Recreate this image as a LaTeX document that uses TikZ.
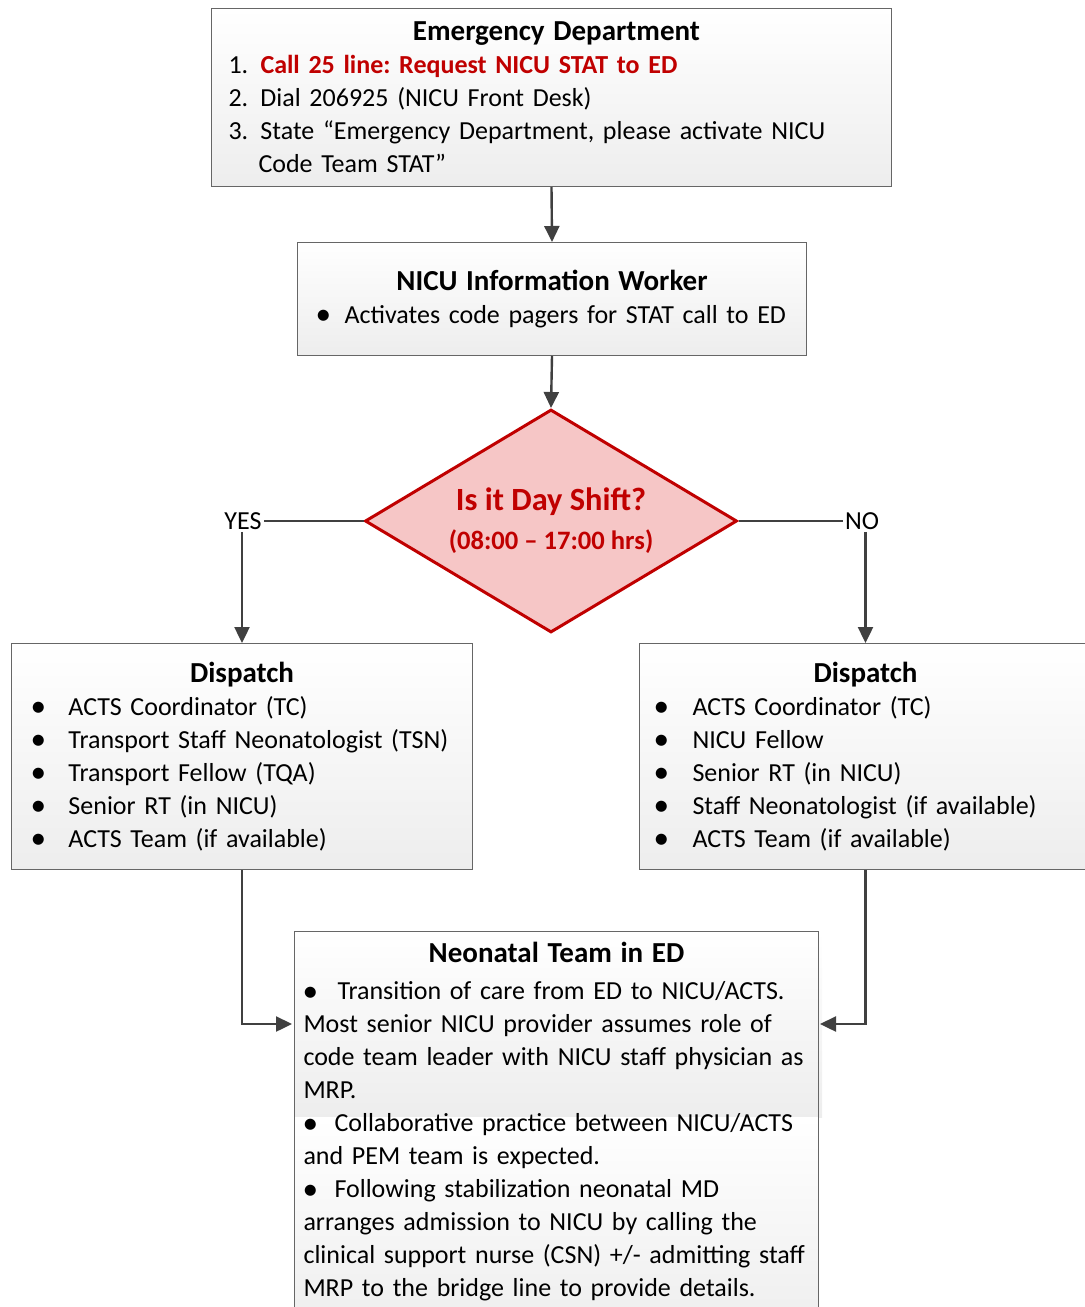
\documentclass[tikz,border=0pt]{standalone}
\usepackage{fontspec}
\setmainfont{Carlito}
\frenchspacing
\usetikzlibrary{arrows.meta,shapes.geometric}

\definecolor{codered}{RGB}{192,0,0}
\definecolor{linegray}{RGB}{64,64,64}
\definecolor{diapink}{RGB}{246,198,198}

\tikzset{
  plainbox/.style={draw=black!60,line width=0.5pt,anchor=north west,inner ysep=5.5pt,
    font=\fontsize{13}{16.5}\selectfont\setlength{\parindent}{0pt}},
  box/.style={plainbox,top color=white,bottom color=black!7},
  band/.style={top color=white,bottom color=black!7},
  dia/.style={diamond,draw=codered,line width=1.5pt,fill=diapink,text=codered,
    shape aspect=1.7,minimum width=186pt,minimum height=111.5pt,inner sep=0pt,
    align=center,font=\fontsize{13.3}{19.5}\selectfont\bfseries},
  lbl/.style={inner sep=1pt,font=\fontsize{13}{16.5}\selectfont},
  conn/.style={draw=linegray,line width=1.2pt,-{Triangle[length=8pt,width=7.5pt]}},
  link/.style={draw=linegray,line width=1pt},
}
\newcommand{\hd}[1]{{\centering\fontsize{14.5}{16.5}\selectfont\bfseries #1\par}}
\newcommand{\blt}{\kern-2pt\raisebox{-0.1ex}{\scalebox{1.2}{\textbullet}}}
\newcommand{\itm}[2]{\mbox{\makebox[#1][l]{\blt}#2}\par}
\newcommand{\num}[2]{\mbox{\makebox[16pt][l]{#1}#2}\par}

\begin{document}
\begin{tikzpicture}[x=0.5pt,y=-0.5pt]
\useasboundingbox (0,0) rectangle (1085,1307);

% boxes
\node[box,minimum height=89pt,inner xsep=8.5pt,text width=323pt] (ed) at (211,8) {%
  \hd{\hspace*{5pt}Emergency Department}
  \num{1.}{{\color{codered}\bfseries Call 25 line: Request NICU STAT to ED}}
  \num{2.}{Dial 206925 (NICU Front Desk)}
  \num{3.}{State “Emergency Department, please activate NICU}
  \mbox{\hspace*{15pt}Code Team STAT”}};

\node[box,minimum height=56.5pt,inner xsep=11pt,text width=232.5pt] (nicu) at (297,242) {%
  \hd{NICU Information Worker}
  \itm{12.5pt}{Activates code pagers for STAT call to ED}};

\node[dia] (shift) at (551,521) {%
  {\fontsize{16.2}{19.5}\selectfont Is it Day Shift?}\\(08:00 – 17:00 hrs)};

\node[lbl] (yes) at (243,521) {YES};
\node[lbl] (no) at (862,521) {NO};

\node[box,minimum height=113pt,inner xsep=11.5pt,text width=207.5pt] (dispL) at (11,643) {%
  \hd{Dispatch}
  \itm{17pt}{ACTS Coordinator (TC)}
  \itm{17pt}{Transport Staff Neonatologist (TSN)}
  \itm{17pt}{Transport Fellow (TQA)}
  \itm{17pt}{Senior RT (in NICU)}
  \itm{17pt}{ACTS Team (if available)}};

\node[box,minimum height=113pt,inner xsep=9pt,text width=208pt] (dispR) at (639,643) {%
  \hd{Dispatch}
  \itm{17.5pt}{ACTS Coordinator (TC)}
  \itm{17.5pt}{NICU Fellow}
  \itm{17.5pt}{Senior RT (in NICU)}
  \itm{17.5pt}{Staff Neonatologist (if available)}
  \itm{17.5pt}{ACTS Team (if available)}};

% neonatal box, shaded in two bands
\shade[band] (294,931) rectangle (822,1117);
\shade[band] (294,1117) rectangle (818,1340);
\node[plainbox,inner xsep=4.5pt,text width=253pt] (neo) at (294,931) {%
  \hd{Neonatal Team in ED}\vspace{2pt}
  \mbox{\hspace*{1.5pt}\makebox[15.5pt][l]{\blt}Transition of care from ED to NICU/ACTS.}\par
  \mbox{Most senior NICU provider assumes role of}\par
  \mbox{code team leader with NICU staff physician as}\par
  \mbox{MRP.}\par
  \mbox{\hspace*{1.5pt}\makebox[14pt][l]{\blt}Collaborative practice between NICU/ACTS}\par
  \mbox{and PEM team is expected.}\par
  \mbox{\hspace*{1.5pt}\makebox[14pt][l]{\blt}Following stabilization neonatal MD}\par
  \mbox{arranges admission to NICU by calling the}\par
  \mbox{clinical support nurse (CSN) +/- admitting staff}\par
  \mbox{MRP to the bridge line to provide details.}\par
  \vspace*{30pt}};

\coordinate (neoL) at (292,1024);
\coordinate (neoR) at (820,1024);

% connectors
\draw[conn] (ed.south) -- (nicu.north);
\draw[conn] (nicu.south) -- (shift.north);
\draw[link] (shift.west) -- (yes.east);
\draw[link] (shift.east) -- (no.west);
\draw[conn] (yes.south -| dispL.north) -- (dispL.north);
\draw[conn] (no.south -| dispR.north) -- (dispR.north);
\draw[conn] (dispL.south) |- (neoL);
\draw[conn] (dispR.south) |- (neoR);

\end{tikzpicture}
\end{document}
